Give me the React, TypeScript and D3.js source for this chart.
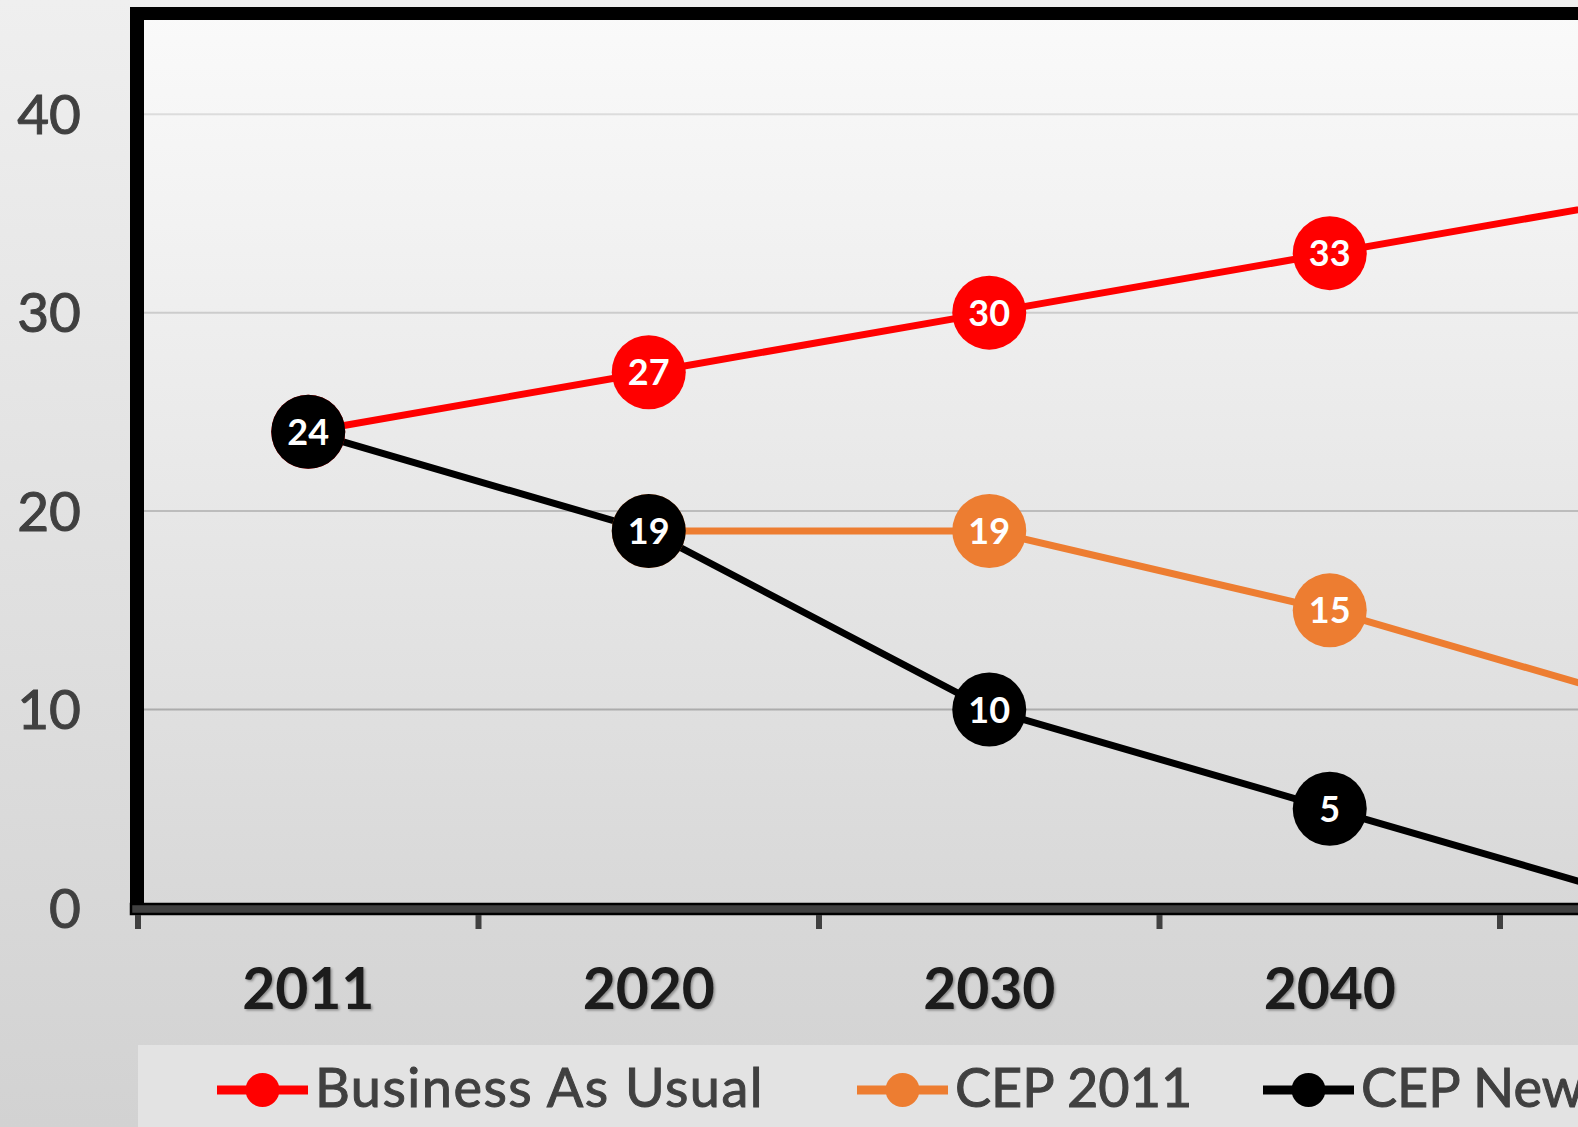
import React from "react";
import * as d3 from "d3";

const years = ["2011", "2020", "2030", "2040", "2050"];
const businessAsUsual = [24, 27, 30, 33, 36];
const cep2011 = [null, 19, 19, 15, 10];
const cepNew = [24, 19, 10, 5, 0];
const yTicks = [0, 10, 20, 30, 40];
const seriesNames = ["Business As Usual", "CEP 2011", "CEP New"];
const seriesColors = ["#ff0000", "#ed7d31", "#000000"];

const W = 1578;
const H = 1127;

export default function App() {
  const x = d3.scaleBand<string>().domain(years).range([138, 138 + 5 * 340.5]).padding(0);
  const y = d3.scaleLinear().domain([0, 45]).range([908, 15]);
  const cx = (yr: string) => (x(yr) as number) + x.bandwidth() / 2;

  const allSeries = [businessAsUsual, cep2011, cepNew];
  const line = d3
    .line<number | null>()
    .defined((d) => d !== null)
    .x((_, i) => cx(years[i]))
    .y((d) => y(d as number));

  const gridColor = d3.interpolateRgb("#9c9c9c", "#dcdcdc");
  const tickXs = [...years.map((yr) => x(yr) as number), (x(years[years.length - 1]) as number) + x.bandwidth()];

  const legendX = [217, 857, 1263];

  return (
    <svg
      width={W}
      height={H}
      style={{ position: "fixed", left: 0, top: 0, display: "block" }}
      fontFamily="Lato, 'Open Sans', sans-serif"
    >
      <defs>
        <linearGradient id="bg" x1="0" y1="0" x2="0" y2="1">
          <stop offset="0" stopColor="#efefef" />
          <stop offset="1" stopColor="#d2d2d2" />
        </linearGradient>
        <linearGradient id="plotbg" x1="0" y1="0" x2="0" y2="1">
          <stop offset="0" stopColor="#fafafa" />
          <stop offset="1" stopColor="#d8d8d8" />
        </linearGradient>
        <filter id="shadow" x="-10%" y="-10%" width="130%" height="130%">
          <feDropShadow dx="1.5" dy="1.5" stdDeviation="1" floodColor="#000" floodOpacity="0.35" />
        </filter>
      </defs>
      <rect x={0} y={0} width={W} height={H} fill="url(#bg)" />
      <rect x={137} y={13} width={W - 137} height={y(0) - 13} fill="url(#plotbg)" />

      {/* gridlines */}
      {yTicks
        .filter((v) => v > 0)
        .map((v) => (
          <line
            key={v}
            x1={144}
            x2={W}
            y1={y(v)}
            y2={y(v)}
            stroke={gridColor(v / 40)}
            strokeWidth={2}
          />
        ))}

      {/* y labels */}
      {yTicks.map((v) => (
        <text
          key={v}
          x={81}
          y={y(v)}
          dy="0.36em"
          textAnchor="end"
          fontSize={55}
          fill="#404040"
          stroke="#404040"
          strokeWidth={1}
        >
          {v}
        </text>
      ))}

      {/* lines */}
      {allSeries.map((s, i) => (
        <path key={i} d={line(s) || ""} fill="none" stroke={seriesColors[i]} strokeWidth={7} />
      ))}

      {/* markers and labels */}
      {allSeries.map((s, i) => (
        <g key={i}>
          {s.map((v, j) =>
            v === null || cx(years[j]) - 37 > W ? null : (
              <g key={j}>
                <circle cx={cx(years[j])} cy={y(v)} r={37} fill={seriesColors[i]} />
                <text
                  x={cx(years[j])}
                  y={y(v)}
                  dy="0.36em"
                  textAnchor="middle"
                  fontSize={36}
                  fontWeight={700}
                  fill="#ffffff"
                >
                  {v}
                </text>
              </g>
            )
          )}
        </g>
      ))}

      {/* frame */}
      <line x1={137} x2={137} y1={7} y2={909} stroke="#000" strokeWidth={14} />
      <line x1={130} x2={W} y1={13.5} y2={13.5} stroke="#000" strokeWidth={13} />
      <rect x={131} y={904} width={W} height={10} fill="#404040" stroke="#000" strokeWidth={2.5} />
      {tickXs.map((tx, i) => (
        <line key={i} x1={tx} x2={tx} y1={915} y2={929} stroke="#404040" strokeWidth={6} />
      ))}

      {/* x labels */}
      {years.map((yr) =>
        cx(yr) > W ? null : (
          <text
            key={yr}
            x={cx(yr)}
            y={1009}
            textAnchor="middle"
            fontSize={57}
            fontWeight={700}
            fill="#1a1a1a"
            filter="url(#shadow)"
          >
            {yr}
          </text>
        )
      )}

      {/* legend */}
      <rect x={138} y={1045} width={W - 138} height={H - 1045} fill="#e3e3e3" />
      {seriesNames.map((name, i) => (
        <g key={name}>
          <line
            x1={legendX[i]}
            x2={legendX[i] + 91}
            y1={1090}
            y2={1090}
            stroke={seriesColors[i]}
            strokeWidth={9}
          />
          <circle cx={legendX[i] + 45.5} cy={1090} r={17} fill={seriesColors[i]} />
          <text
            x={legendX[i] + 98}
            y={1107}
            fontSize={54}
            fill="#404040"
            stroke="#404040"
            strokeWidth={1}
            letterSpacing={i === 0 ? 1.5 : 0}
          >
            {name}
          </text>
        </g>
      ))}
    </svg>
  );
}
